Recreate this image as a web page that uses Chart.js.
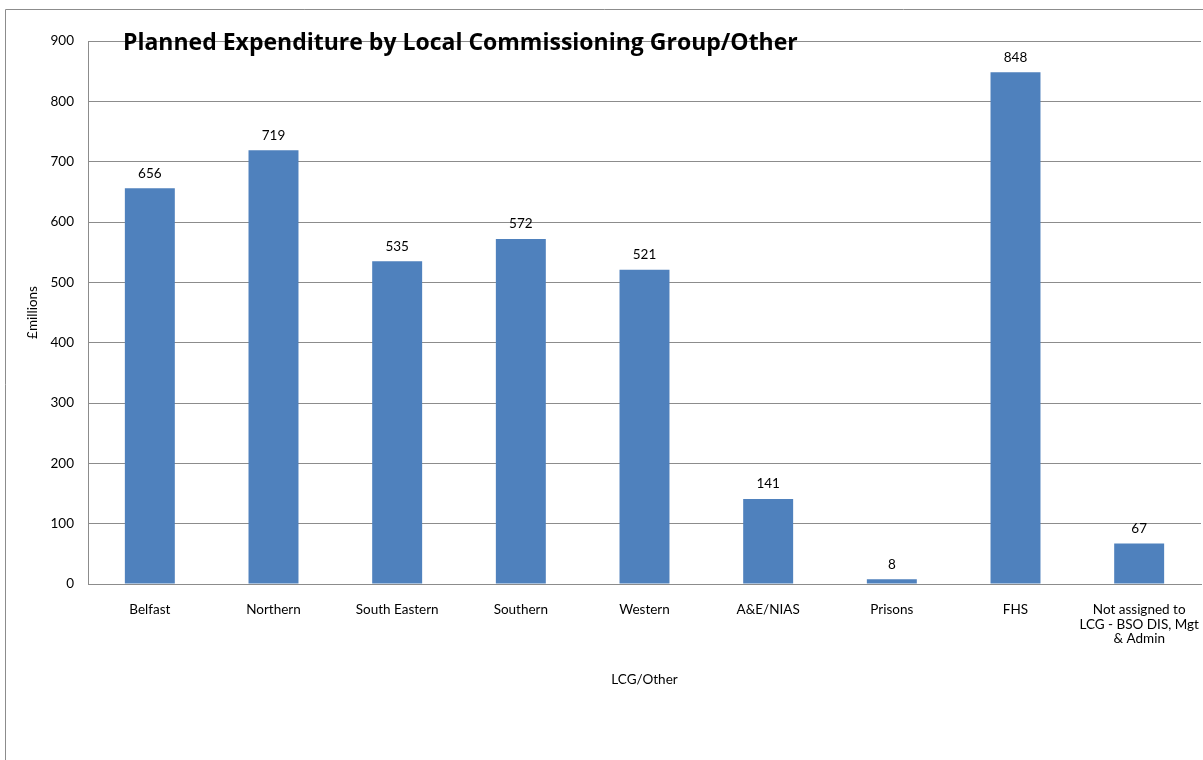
<!DOCTYPE html>
<html>
<head>
<meta charset="utf-8">
<script src="https://cdn.jsdelivr.net/npm/chart.js@4.4.0/dist/chart.umd.min.js"></script>
<style>
  html, body { margin: 0; padding: 0; background: #fff; }
  #wrap { position: relative; width: 1203px; height: 760px; }
</style>
</head>
<body>
<div id="wrap"><canvas id="lcgChart" width="1203" height="760"></canvas></div>
<script>
// Data
const categories = [
    'Belfast', 'Northern', 'South Eastern', 'Southern', 'Western',
    'A&E/NIAS', 'Prisons', 'FHS',
    ['Not assigned to', 'LCG - BSO DIS, Mgt', '& Admin']
];
const expenditure = [656, 719, 535, 572, 521, 141, 8, 848, 67];
const yTicks = [0, 100, 200, 300, 400, 500, 600, 700, 800, 900];

const chartTitle = 'Planned Expenditure by Local Commissioning Group/Other';
const yTitle = '\u00A3millions';
const xTitle = 'LCG/Other';

const FONT = "Lato, 'Open Sans', sans-serif";
const TXT = 13.5;

// outer frame (only left and top edges are inside the picture)
const framePlugin = {
    id: 'frame',
    beforeDraw(chart) {
        const ctx = chart.ctx;
        ctx.save();
        ctx.strokeStyle = '#8c8c8c';
        ctx.lineWidth = 1;
        ctx.beginPath();
        ctx.moveTo(5.5, 760);
        ctx.lineTo(5.5, 9.5);
        ctx.lineTo(1203, 9.5);
        ctx.stroke();
        ctx.restore();
    }
};

// value labels above bars + the title drawn over the plot
const labelsPlugin = {
    id: 'valueLabels',
    afterDatasetsDraw(chart) {
        const ctx = chart.ctx;
        const meta = chart.getDatasetMeta(0);
        ctx.save();
        ctx.fillStyle = '#000';
        ctx.font = TXT + 'px ' + FONT;
        ctx.textAlign = 'center';
        ctx.textBaseline = 'middle';
        meta.data.forEach((bar, i) => {
            ctx.fillText(String(expenditure[i]), bar.x, bar.y - 15);
        });
        ctx.font = "bold 23px 'Open Sans', sans-serif";
        ctx.textAlign = 'left';
        ctx.fillText(chartTitle, 123, 43);
        ctx.restore();
    }
};

new Chart(document.getElementById('lcgChart'), {
    type: 'bar',
    data: {
        labels: categories,
        datasets: [{
            data: expenditure,
            backgroundColor: '#4F81BD',
            borderWidth: 0,
            barPercentage: 0.404,
            categoryPercentage: 1.0
        }]
    },
    options: {
        responsive: false,
        animation: false,
        layout: {
            padding: { left: 0, right: 2, top: 41, bottom: 0 }
        },
        plugins: {
            legend: { display: false },
            title: { display: false },
            tooltip: { enabled: false }
        },
        scales: {
            y: {
                min: 0,
                max: 900,
                afterBuildTicks(scale) {
                    scale.ticks = yTicks.map(v => ({ value: v }));
                },
                afterFit(scale) {
                    scale.width = 88;
                },
                title: {
                    display: true,
                    text: yTitle,
                    color: '#000',
                    font: { family: FONT, size: TXT },
                    padding: { top: 25, bottom: 0 }
                },
                ticks: {
                    color: '#000',
                    font: { family: FONT, size: TXT },
                    padding: 14
                },
                grid: {
                    color: '#8c8c8c',
                    lineWidth: 1,
                    drawTicks: false
                },
                border: { color: '#8c8c8c' }
            },
            x: {
                afterFit(scale) {
                    scale.height = 176;
                    scale.paddingLeft = 0;
                    scale.paddingRight = 0;
                },
                title: {
                    display: true,
                    text: xTitle,
                    color: '#000',
                    font: { family: FONT, size: TXT },
                    padding: { top: 0, bottom: 72 }
                },
                ticks: {
                    color: '#000',
                    font: { family: FONT, size: TXT, lineHeight: 1.05 },
                    padding: 19,
                    maxRotation: 0,
                    autoSkip: false
                },
                grid: { display: false, drawTicks: false },
                border: { color: '#8c8c8c' }
            }
        }
    },
    plugins: [framePlugin, labelsPlugin]
});
</script>
</body>
</html>
